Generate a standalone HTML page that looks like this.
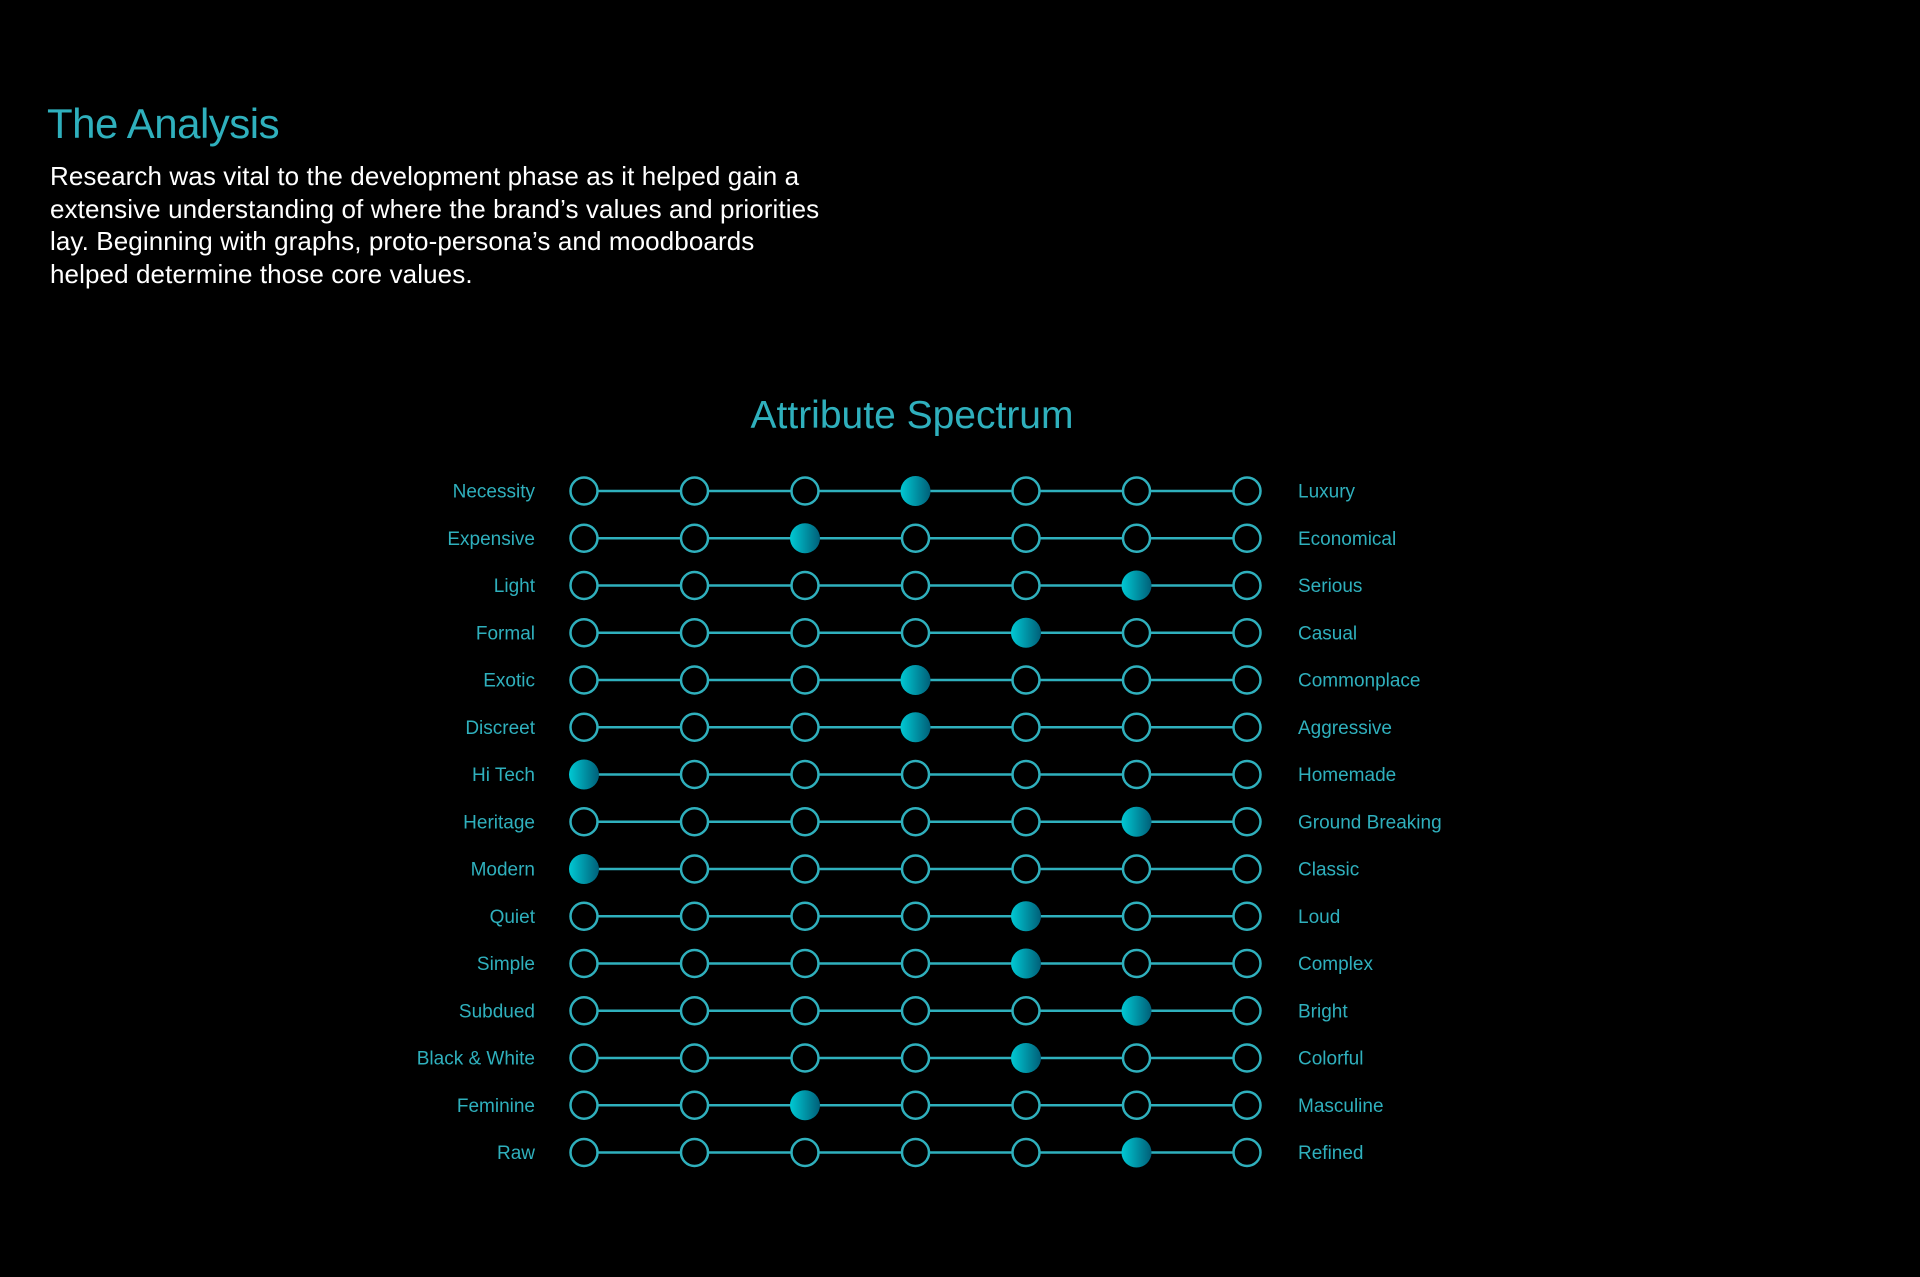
<!DOCTYPE html>
<html><head><meta charset="utf-8"><style>
html,body{margin:0;padding:0;background:#000;width:1920px;height:1277px;overflow:hidden}
body{font-family:"Liberation Sans",sans-serif;position:relative}
#title{position:absolute;left:47px;top:100px;font-size:42px;color:#2fb0bd;margin:0;font-weight:normal;letter-spacing:-0.5px}
#intro{position:absolute;left:50px;top:160px;color:#fff;font-size:26px;line-height:32.5px;letter-spacing:0.1px;margin:0;white-space:nowrap}
svg{position:absolute;left:0;top:0}
</style></head><body>
<h1 id="title">The Analysis</h1>
<p id="intro">Research was vital to the development phase as it helped gain a<br>extensive understanding of where the brand’s values and priorities<br>lay. Beginning with graphs, proto-persona’s and moodboards<br>helped determine those core values.</p>
<svg id="chart" width="1920" height="1277">
<defs><linearGradient id="fill" x1="0" x2="1" y1="0" y2="0"><stop offset="0" stop-color="#00c9d4"/><stop offset="1" stop-color="#005f78"/></linearGradient></defs>
<text x="912" y="428" text-anchor="middle" font-size="39" fill="#2fb0bd" font-family="Liberation Sans, sans-serif">Attribute Spectrum</text>
</svg>
<script>
const leftLabels=["Necessity","Expensive","Light","Formal","Exotic","Discreet","Hi Tech","Heritage","Modern","Quiet","Simple","Subdued","Black & White","Feminine","Raw"];
const rightLabels=["Luxury","Economical","Serious","Casual","Commonplace","Aggressive","Homemade","Ground Breaking","Classic","Loud","Complex","Bright","Colorful","Masculine","Refined"];
const values=[3,2,5,4,3,3,0,5,0,4,4,5,4,2,5];
const steps=7;
const svg=document.getElementById('chart');
const NS='http://www.w3.org/2000/svg';
const x0=584,dx=110.5,y0=491,dy=47.25,teal='#2fb0bd';
function xs(i){return x0+i*dx;}
function ys(r){return y0+r*dy;}
function mk(t,a){const e=document.createElementNS(NS,t);for(const k in a)e.setAttribute(k,a[k]);svg.appendChild(e);return e;}
values.forEach((v,r)=>{
  const y=ys(r);
  const line=mk('line',{x1:xs(0),x2:xs(steps-1),y1:y,y2:y,stroke:teal,'stroke-width':2.5});
  
  
  for(let i=0;i<steps;i++){
    let c;
    if(i===v){c=mk('circle',{cx:xs(i),cy:y,r:15,fill:'url(#fill)'});
      }
    else{c=mk('circle',{cx:xs(i),cy:y,r:13.5,fill:'#000',stroke:teal,'stroke-width':2.5});
      }
    
  }
  const l=mk('text',{x:535,y:y+6.5,'text-anchor':'end','font-size':19,fill:teal});
  l.textContent=leftLabels[r];
  
  
  const rt=mk('text',{x:1298,y:y+6.5,'font-size':19,fill:teal});
  rt.textContent=rightLabels[r];
  
  
});
</script>
</body></html>
